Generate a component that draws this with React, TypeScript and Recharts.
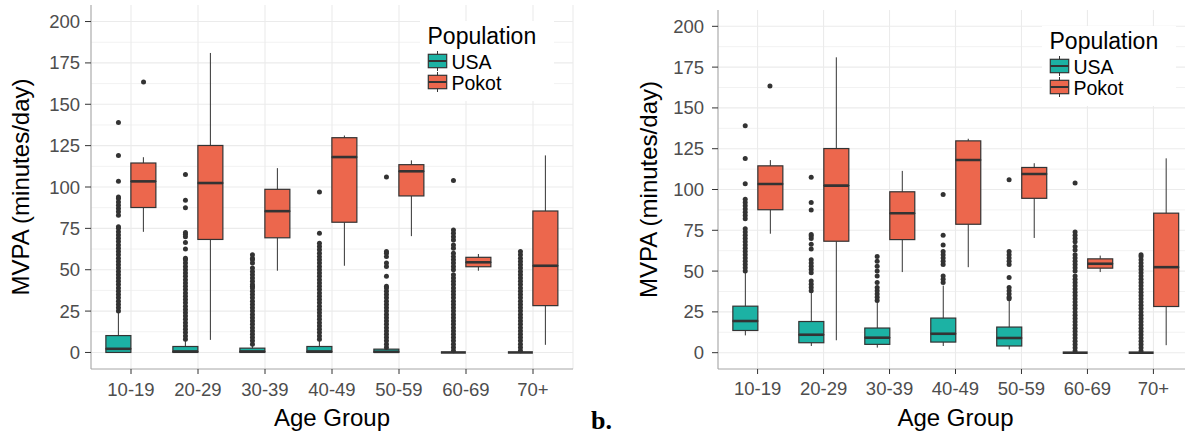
import {
  ComposedChart,
  Bar,
  Scatter,
  XAxis,
  YAxis,
  CartesianGrid,
  Legend,
  Label,
} from "recharts";

const AGE_GROUPS = ["10-19", "20-29", "30-39", "40-49", "50-59", "60-69", "70+"];
const Y_TICKS = [0, 25, 50, 75, 100, 125, 150, 175, 200];
const Y_MINOR = [12.5, 37.5, 62.5, 87.5, 112.5, 137.5, 162.5, 187.5];

// [lower whisker, q1, median, q3, upper whisker] per age group
const POKOT = [
  [72.9, 87.6, 103.4, 114.5, 118],
  [7.6, 68.3, 102.4, 125.1, 181],
  [49.4, 69.3, 85.4, 98.6, 111.4],
  [52.4, 78.7, 118.1, 129.8, 131.1],
  [70.3, 94.6, 109.5, 113.5, 116.1],
  [49.4, 51.8, 54.5, 57.5, 59.5],
  [4.6, 28.3, 52.4, 85.5, 119.1],
];
const USA_A = [
  [0, 0, 2.2, 10.2, 24.5],
  [0, 0, 0.6, 3.6, 7.6],
  [0, 0, 0.6, 2.6, 4.5],
  [0, 0, 0.6, 3.6, 8],
  [0, 0, 0.4, 2, 3],
  [0, 0, 0, 0, 0],
  [0, 0, 0, 0, 0],
];
const USA_B = [
  [10.6, 13.6, 19.4, 28.5, 49.3],
  [4.1, 6.1, 11, 19.1, 37.1],
  [3.1, 5.1, 9.2, 15.1, 31],
  [4.1, 6.5, 11.6, 21.2, 41.1],
  [2, 4.1, 9, 15.7, 31.9],
  [0, 0, 0, 0, 0],
  [0, 0, 0, 0, 0],
];

// outliers per age group
const POKOT_OUT = [[163.5], [], [], [], [], [], []];
const USA_OUT_A = [
  [25, 27, 29, 31, 33, 35, 37, 39, 41, 43, 45, 47, 49, 51, 53, 55, 57, 59, 61, 63, 65, 67, 69, 71, 73, 75, 76, 83, 85, 87, 89, 91, 93, 94, 103.5, 119, 139],
  [8, 10, 12, 14, 16, 18, 20, 22, 24, 26, 28, 30, 32, 34, 36, 38, 40, 42, 44, 46, 48, 50, 52, 54, 56, 57, 62.5, 66.5, 70, 71.5, 72.5, 87.5, 92, 107.5],
  [5, 7, 9, 11, 13, 15, 17, 19, 21, 23, 25, 27, 29, 31, 33, 35, 37, 39, 40, 41, 43, 45, 47, 49, 51, 54, 56, 57, 59],
  [8, 10, 12, 14, 16, 18, 20, 22, 24, 26, 28, 30, 32, 34, 36, 38, 40, 42, 44, 46, 48, 50, 52, 54, 56, 58, 60, 62, 64, 66, 72, 97],
  [3, 5, 7, 9, 11, 13, 15, 17, 19, 21, 23, 25, 27, 29, 31, 33, 35, 37, 39, 40, 46, 52, 54, 58, 60, 61, 106],
  [1, 3, 5, 7, 9, 11, 13, 15, 17, 19, 21, 23, 25, 27, 29, 31, 33, 35, 37, 39, 41, 43, 45, 47, 50, 52, 54, 56, 58, 60, 63, 65, 68, 70, 72, 74, 104],
  [1, 3, 5, 7, 9, 11, 13, 15, 17, 19, 21, 23, 25, 27, 29, 31, 33, 35, 37, 39, 41, 43, 45, 47, 49, 51, 53, 55, 57, 59, 61],
];
const USA_OUT_B = [
  [50, 52, 54, 56, 58, 60, 62, 64, 66, 68, 70, 72, 74, 76, 82, 84, 86, 88, 90, 92, 94, 103.5, 119, 139],
  [38, 40, 42, 44, 49, 51, 53, 55, 57, 63.5, 66.5, 70, 71.5, 72.5, 87.5, 92, 107.5],
  [32, 34, 36, 38, 40, 43, 47, 50, 53, 56, 59],
  [43, 45, 47, 54, 56, 58, 60, 62, 66, 72, 97],
  [33, 34, 36, 38, 40, 46, 54, 56, 58, 60, 62, 106],
  [1, 3, 5, 7, 9, 11, 13, 15, 17, 19, 21, 23, 25, 27, 29, 31, 33, 35, 37, 39, 41, 43, 45, 47, 50, 52, 54, 56, 58, 60, 63, 65, 68, 70, 72, 74, 104],
  [1, 3, 5, 7, 9, 11, 13, 15, 17, 19, 21, 23, 25, 27, 29, 31, 33, 35, 37, 39, 41, 43, 45, 47, 49, 51, 53, 55, 57, 59, 60],
];

const TEAL = "#1CB2A4";
const CORAL = "#EC674D";
const INK = "#333333";
const FRAME = "#A6A6A6";
const TICK = "#4D4D4D";
const FONT = '"Liberation Sans", Arial, Helvetica, sans-serif';

// stacked segments: invisible base, lower whisker, lower box, upper box, upper whisker
function buildRows(usa: number[][], pokot: number[][]) {
  return AGE_GROUPS.map((age, i) => {
    const [ulo, uq1, umed, uq3, uhi] = usa[i];
    const [plo, pq1, pmed, pq3, phi] = pokot[i];
    return {
      age,
      uBase: ulo, uLow: uq1 - ulo, uBox1: umed - uq1, uBox2: uq3 - umed, uHigh: uhi - uq3,
      pBase: plo, pLow: pq1 - plo, pBox1: pmed - pq1, pBox2: pq3 - pmed, pHigh: phi - pq3,
    };
  });
}

function outlierRows(lists: number[][]) {
  return AGE_GROUPS.flatMap((age, i) => lists[i].map((v) => ({ age, v })));
}

const NoShape = () => <g />;

const WhiskerShape = (p: any) => {
  const cx = p.x + p.width / 2;
  return <line x1={cx} x2={cx} y1={p.y} y2={p.y + p.height} stroke={INK} strokeWidth={1} />;
};

const lowerBox = (fill: string) => (p: any) => (
  <rect x={p.x} y={p.y} width={p.width} height={Math.max(p.height, 0)} fill={fill} stroke={INK} strokeWidth={1.2} />
);

const upperBox = (fill: string) => (p: any) => (
  <g>
    <rect x={p.x} y={p.y} width={p.width} height={Math.max(p.height, 0)} fill={fill} stroke={INK} strokeWidth={1.2} />
    <line x1={p.x} x2={p.x + p.width} y1={p.y + p.height} y2={p.y + p.height} stroke={INK} strokeWidth={2.6} />
  </g>
);

const dot = (dx: number) => (p: any) => <circle cx={p.cx + dx} cy={p.cy} r={2.5} fill={INK} />;

const tickStyle = { fontSize: "18.5px", fontFamily: FONT };

const XTick = (tp: any) => (
  <text x={tp.x} y={tp.y} dy="0.71em" textAnchor="middle" fill={TICK} style={tickStyle}>
    {tp.payload.value}
  </text>
);

const YTick = (tp: any) => (
  <text x={tp.x} y={tp.y} dy="0.355em" textAnchor="end" fill={TICK} style={tickStyle}>
    {tp.payload.value}
  </text>
);

const LEGEND_ITEMS = [
  { name: "USA", fill: TEAL },
  { name: "Pokot", fill: CORAL },
];

function PopLegend() {
  return (
    <svg width={134} height={80} style={{ display: "block", fontFamily: FONT }}>
      <rect width={134} height={80} fill="#fff" />
      <text x={7.5} y={22.5} fontSize={23} fill="#000">Population</text>
      {LEGEND_ITEMS.map((it, i) => {
        const y0 = 30 + i * 21;
        return (
          <g key={it.name}>
            <line x1={17.5} x2={17.5} y1={y0} y2={y0 + 20} stroke={INK} strokeWidth={1} />
            <rect x={8.3} y={y0 + 3.3} width={18.4} height={13.4} fill={it.fill} stroke={INK} strokeWidth={1.2} />
            <line x1={8.3} x2={26.7} y1={y0 + 10} y2={y0 + 10} stroke={INK} strokeWidth={2} />
            <text x={31.5} y={y0 + 17.5} fontSize={19.5} fill="#000">{it.name}</text>
          </g>
        );
      })}
    </svg>
  );
}

type PanelProps = {
  usa: number[][];
  usaOut: number[][];
  width: number;
  top: number;
  yAxisWidth: number;
  yTickMargin: number;
  xTickMargin: number;
  pad: number;
  dodge: number;
  titleX: number;
  legendLeft: number;
  legendTop: number;
};

function Panel(props: PanelProps) {
  const rows = buildRows(props.usa, POKOT);
  return (
    <ComposedChart
      width={props.width}
      height={436}
      data={rows}
      margin={{ top: props.top, right: 7, bottom: 0, left: 0 }}
      barGap={0}
      barCategoryGap="12.5%"
      style={{ fontFamily: FONT }}
    >
      <CartesianGrid vertical={false} horizontalValues={Y_MINOR} stroke="#F2F2F2" strokeWidth={1} />
      <CartesianGrid horizontalValues={Y_TICKS} stroke="#EBEBEB" strokeWidth={1.1} />
      <XAxis
        dataKey="age"
        type="category"
        allowDuplicatedCategory={false}
        padding={{ left: props.pad, right: props.pad }}
        height={67}
        interval={0}
        tickSize={5}
        tickMargin={props.xTickMargin}
        tick={XTick}
        tickLine={{ stroke: INK }}
        axisLine={{ stroke: FRAME }}
      >
        <Label
          content={(lp: any) => {
            const vb = lp.viewBox;
            return (
              <text x={vb.x + vb.width / 2} y={vb.y + 56.5} textAnchor="middle" fontSize={24} fill="#000">
                Age Group
              </text>
            );
          }}
        />
      </XAxis>
      <XAxis
        xAxisId="top"
        orientation="top"
        dataKey="age"
        allowDuplicatedCategory={false}
        height={0}
        tick={false}
        tickLine={false}
        axisLine={{ stroke: FRAME }}
      />
      <YAxis
        type="number"
        domain={[-10, 210]}
        ticks={Y_TICKS}
        allowDataOverflow
        width={props.yAxisWidth}
        tickSize={6}
        tickMargin={props.yTickMargin}
        tick={YTick}
        tickLine={{ stroke: INK }}
        axisLine={{ stroke: FRAME }}
      >
        <Label
          content={(lp: any) => {
            const vb = lp.viewBox;
            const cx = vb.x + props.titleX;
            const cy = vb.y + vb.height / 2;
            return (
              <text x={cx} y={cy} transform={`rotate(-90 ${cx} ${cy})`} textAnchor="middle" fontSize={24} fill="#000">
                MVPA (minutes/day)
              </text>
            );
          }}
        />
      </YAxis>
      <YAxis yAxisId="right" orientation="right" width={0} tick={false} tickLine={false} axisLine={{ stroke: FRAME }} />

      <Bar dataKey="uBase" stackId="usa" shape={NoShape} isAnimationActive={false} />
      <Bar dataKey="uLow" stackId="usa" shape={WhiskerShape} isAnimationActive={false} />
      <Bar dataKey="uBox1" stackId="usa" shape={lowerBox(TEAL)} isAnimationActive={false} />
      <Bar dataKey="uBox2" stackId="usa" shape={upperBox(TEAL)} isAnimationActive={false} />
      <Bar dataKey="uHigh" stackId="usa" shape={WhiskerShape} isAnimationActive={false} />

      <Bar dataKey="pBase" stackId="pokot" shape={NoShape} isAnimationActive={false} />
      <Bar dataKey="pLow" stackId="pokot" shape={WhiskerShape} isAnimationActive={false} />
      <Bar dataKey="pBox1" stackId="pokot" shape={lowerBox(CORAL)} isAnimationActive={false} />
      <Bar dataKey="pBox2" stackId="pokot" shape={upperBox(CORAL)} isAnimationActive={false} />
      <Bar dataKey="pHigh" stackId="pokot" shape={WhiskerShape} isAnimationActive={false} />

      <Scatter data={outlierRows(props.usaOut)} dataKey="v" shape={dot(-props.dodge)} isAnimationActive={false} />
      <Scatter data={outlierRows(POKOT_OUT)} dataKey="v" shape={dot(props.dodge)} isAnimationActive={false} />

      <Legend
        layout="vertical"
        align="center"
        verticalAlign="middle"
        content={() => <PopLegend />}
        wrapperStyle={{ left: props.legendLeft, top: props.legendTop, width: 134, height: 80 }}
      />
    </ComposedChart>
  );
}

export default function App() {
  return (
    <div
      style={{
        position: "absolute",
        left: 0,
        top: 0,
        width: 1185,
        height: 436,
        overflow: "hidden",
        background: "#fff",
        fontFamily: FONT,
      }}
    >
      <div style={{ position: "absolute", left: 0, top: 0 }}>
        <Panel
          usa={USA_A}
          usaOut={USA_OUT_A}
          width={580}
          top={5}
          yAxisWidth={91}
          yTickMargin={5}
          xTickMargin={9}
          pad={6.5}
          dodge={12.56}
          titleX={29.3}
          legendLeft={420}
          legendTop={21}
        />
      </div>
      <div style={{ position: "absolute", left: 590, top: 0 }}>
        <Panel
          usa={USA_B}
          usaOut={USA_OUT_B}
          width={610}
          top={10}
          yAxisWidth={128}
          yTickMargin={8}
          xTickMargin={7.5}
          pad={6.6}
          dodge={12.36}
          titleX={67}
          legendLeft={451.6}
          legendTop={26}
        />
      </div>
      <div
        style={{
          position: "absolute",
          left: 591,
          top: 408,
          fontFamily: '"Liberation Serif", "Times New Roman", serif',
          fontWeight: "bold",
          fontSize: 26,
          lineHeight: "26px",
        }}
      >
        b.
      </div>
    </div>
  );
}
